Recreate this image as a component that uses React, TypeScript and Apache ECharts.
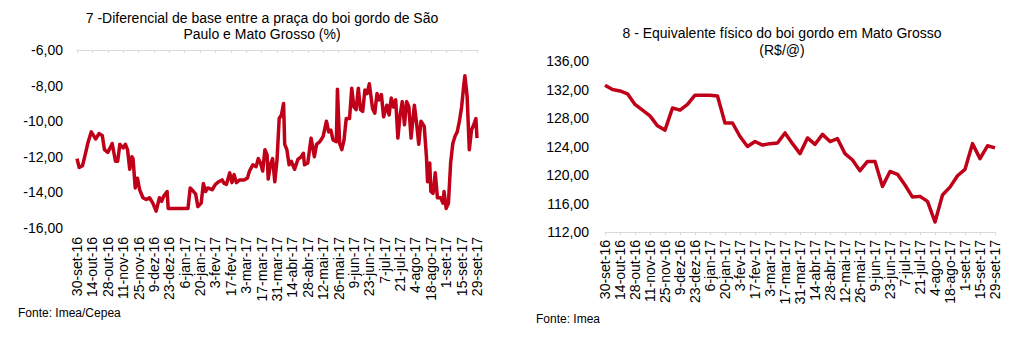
import React, { useEffect, useRef } from "react";
import * as echarts from "echarts";

// Tick labels (every 14 days from 30-set-16)
const tickLabels = [
  "30-set-16", "14-out-16", "28-out-16", "11-nov-16", "25-nov-16", "9-dez-16", "23-dez-16",
  "6-jan-17", "20-jan-17", "3-fev-17", "17-fev-17", "3-mar-17", "17-mar-17", "31-mar-17",
  "14-abr-17", "28-abr-17", "12-mai-17", "26-mai-17", "9-jun-17", "23-jun-17", "7-jul-17",
  "21-jul-17", "4-ago-17", "18-ago-17", "1-set-17", "15-set-17", "29-set-17",
];

// Chart 7: day offset from 30-set-16 and basis differential (%)
const leftDays = [
  0, 2, 5, 7, 10, 13, 15, 17, 20, 23, 25, 28, 31, 32, 35, 37, 39, 42, 44, 46, 48, 50, 51, 53, 55, 57,
  60, 63, 66, 69, 72, 75, 77, 79, 82, 83, 101, 103, 106, 108, 110, 113, 115, 117, 119, 123, 126, 129,
  132, 134, 136, 139, 141, 143, 145, 148, 152, 155, 157, 160, 163, 165, 167, 169, 171, 173, 174, 176,
  178, 180, 182, 184, 186, 188, 189, 191, 193, 195, 198, 201, 204, 206, 207, 210, 213, 216, 218, 221,
  224, 227, 229, 231, 233, 236, 237, 239, 241, 243, 245, 248, 250, 252, 254, 256, 258, 260, 262, 264,
  266, 269, 271, 273, 275, 277, 279, 282, 284, 286, 288, 290, 292, 294, 296, 298, 300, 302, 304, 307,
  309, 311, 313, 316, 318, 319, 321, 322, 324, 326, 328, 331, 333, 334, 336, 338, 340, 342, 344, 346,
  348, 350, 352, 353, 355, 357, 359, 361, 363, 364,
];
const leftValues = [
  -12.1, -12.6, -12.5, -12.0, -11.2, -10.6, -10.8, -11.0, -10.7, -10.8, -11.6, -11.75, -11.4, -11.25,
  -12.25, -12.25, -11.3, -11.5, -11.3, -11.6, -12.7, -12.0, -12.1, -13.75, -13.2, -13.85,
  -14.3, -14.4, -14.3, -14.6, -15.05, -14.3, -14.5, -14.2, -13.95, -14.9, -14.9, -13.75, -13.95, -14.1,
  -14.8, -14.6, -13.5, -13.95, -13.75, -13.85, -13.55, -13.4,
  -13.3, -13.5, -13.55, -12.9, -13.45, -13.0, -13.45, -13.3, -13.3, -13.2, -12.8, -12.45, -12.55, -12.1,
  -12.35, -12.8, -11.6, -11.9, -13.25, -12.45,
  -12.1, -13.4, -12.2, -9.85, -9.65, -9.0, -11.3, -11.6, -12.45, -12.25, -12.7, -12.15, -12.0, -11.8,
  -12.45, -12.35, -10.95, -12.0, -11.3, -11.15,
  -10.85, -10.0, -10.6, -10.5, -11.05, -11.15, -8.2, -11.25, -11.6, -11.05, -9.85, -9.85, -8.15, -9.2,
  -9.35, -8.15, -9.35, -9.45, -8.25, -8.45,
  -7.9, -9.3, -9.55, -8.45, -8.8, -8.5, -9.75, -9.1, -9.65, -8.7, -9.2, -8.8, -10.95, -9.65, -8.9, -10.2,
  -8.9, -9.2, -10.95, -9.1,
  -10.1, -11.3, -10.0, -10.3, -12.0, -13.4, -12.35, -13.95, -14.05, -12.9, -14.3, -14.3, -14.6, -13.95,
  -14.9, -14.6, -12.35, -11.25, -10.85, -10.6,
  -10.0, -9.2, -7.95, -7.45, -8.6, -11.6, -10.5, -10.2, -9.85, -10.95,
];

// Chart 8: weekly physical equivalent (R$/@), week 0 = 30-set-16
const rightValues = [
  132.6, 132.0, 131.8, 131.4, 129.9, 129.1, 128.3, 126.9, 126.3, 129.4, 129.1, 129.9, 131.2, 131.2,
  131.2, 131.1, 127.3, 127.3, 125.4, 124.0, 124.7, 124.2, 124.4, 124.5, 125.9, 124.4, 123.0, 125.2,
  124.3, 125.7, 124.7, 125.1, 123.0, 122.1, 120.6, 121.9, 121.9, 118.4, 120.5, 120.1, 118.6, 116.9,
  117.0, 116.3, 113.4, 117.2, 118.3, 119.9, 120.8, 124.4, 122.3, 124.1, 123.8,
];

const leftTitle = ["7 -Diferencial de base entre a praça do boi gordo de São", "Paulo e Mato Grosso (%)"];
const rightTitle = ["8 - Equivalente físico do boi gordo em Mato Grosso", "(R$/@)"];
const leftSource = "Fonte: Imea/Cepea";
const rightSource = "Fonte: Imea";

const FONT = "'Liberation Sans', Arial, Helvetica, sans-serif";
const RED = "#C00018";
const GRAY = "#d9d9d9";

const fmt = (v: number) => v.toFixed(2).replace(".", ",");
const dateFmt = (v: number) => tickLabels[Math.round(v / 14)] ?? "";

export default function App() {
  const ref = useRef<HTMLDivElement>(null);
  useEffect(() => {
    if (!ref.current) return;
    const chart = echarts.init(ref.current, undefined, { renderer: "svg" });
    const xLabel = {
      show: true,
      rotate: 90,
      fontSize: 14,
      fontFamily: FONT,
      color: "#000",
      formatter: dateFmt,
      showMinLabel: true,
      showMaxLabel: true,
      hideOverlap: false,
    };
    const yLabel = (margin: number) => ({
      fontSize: 14,
      fontFamily: FONT,
      color: "#000",
      formatter: fmt,
      margin,
    });
    const text = (t: string, x: number, y: number, size: number, align: string) => ({
      type: "text",
      x,
      y,
      style: {
        text: t,
        fill: "#000",
        font: `${size}px ${FONT}`,
        align,
        verticalAlign: "middle",
      },
    });
    chart.setOption({
      animation: false,
      backgroundColor: "#fff",
      grid: [
        { left: 77, top: 50, width: 400, height: 178 },
        { left: 605, top: 61, width: 390, height: 171 },
      ],
      xAxis: [
        {
          gridIndex: 0, type: "value", min: 0, max: 364, interval: 14, position: "top",
          axisLine: { show: true, lineStyle: { color: GRAY, width: 1 } },
          axisTick: { show: true, inside: true, length: 3, lineStyle: { color: GRAY } },
          axisLabel: { show: false },
          splitLine: { show: false },
        },
        {
          gridIndex: 0, type: "value", min: 0, max: 364, interval: 14, position: "bottom",
          axisLine: { show: false },
          axisTick: { show: false },
          axisLabel: { ...xLabel, margin: 9 },
          splitLine: { show: false },
        },
        {
          gridIndex: 1, type: "value", min: 0, max: 364, interval: 14, position: "bottom",
          axisLine: { show: true, onZero: false, lineStyle: { color: GRAY, width: 1 } },
          axisTick: { show: true, inside: false, length: 3, lineStyle: { color: GRAY } },
          axisLabel: { ...xLabel, margin: 8 },
          splitLine: { show: false },
        },
      ],
      yAxis: [
        {
          gridIndex: 0, type: "value", min: -16, max: -6, interval: 2,
          axisLine: { show: false }, axisTick: { show: false }, splitLine: { show: false },
          axisLabel: yLabel(14),
        },
        {
          gridIndex: 1, type: "value", min: 112, max: 136, interval: 4,
          axisLine: { show: false }, axisTick: { show: false }, splitLine: { show: false },
          axisLabel: yLabel(16),
        },
      ],
      series: [
        {
          type: "line", xAxisIndex: 0, yAxisIndex: 0, showSymbol: false,
          lineStyle: { color: RED, width: 3.5, join: "round" },
          data: leftDays.map((d, i) => [d, leftValues[i]]),
        },
        {
          type: "line", xAxisIndex: 2, yAxisIndex: 1, showSymbol: false,
          lineStyle: { color: RED, width: 3.5, join: "round" },
          data: rightValues.map((v, i) => [i * 7, v]),
        },
      ],
      graphic: [
        text(leftTitle[0], 262, 18, 14, "center"),
        text(leftTitle[1], 262, 34, 14, "center"),
        text(rightTitle[0], 782, 33, 14, "center"),
        text(rightTitle[1], 782, 50, 14, "center"),
        text(leftSource, 18, 313, 12, "left"),
        text(rightSource, 536, 319, 12, "left"),
      ],
    });
    return () => chart.dispose();
  }, []);
  return (
    <div
      ref={ref}
      style={{ position: "fixed", left: 0, top: 0, width: 1021, height: 360 }}
    />
  );
}
